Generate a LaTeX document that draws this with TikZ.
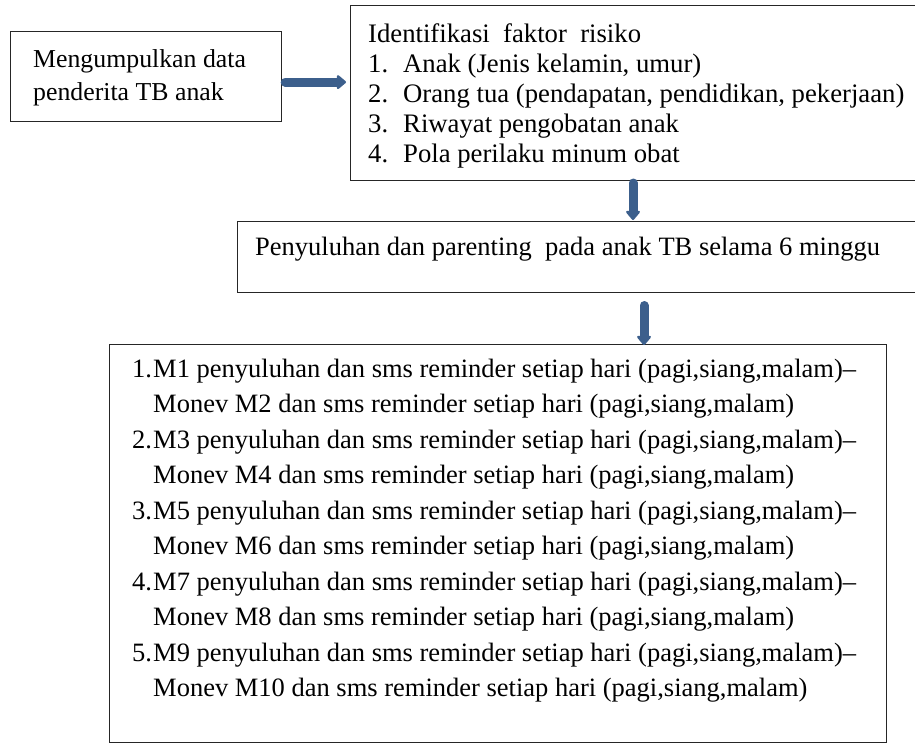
\documentclass[tikz,border=0pt]{standalone}
\usepackage{fontspec}
\setmainfont{Liberation Serif}
\usetikzlibrary{arrows.meta}
\definecolor{arrowblue}{RGB}{60,95,140}
\tikzset{
  box/.style={draw=black!85, line width=1.2pt, inner sep=0pt, anchor=north west},
  txtA/.style={anchor=base west, inner sep=0pt, font=\fontsize{25.8}{30}\selectfont},
  txtB/.style={anchor=base west, inner sep=0pt, font=\fontsize{26.7}{30}\selectfont},
  txtD/.style={anchor=base west, inner sep=0pt, font=\fontsize{26.5}{32}\selectfont},
  bigarrow/.style={draw=arrowblue, line width=9pt, line cap=round,
    -{Triangle[length=10pt,width=16pt,round]}},
}
\begin{document}
\begin{tikzpicture}[x=1pt,y=-1pt]
\useasboundingbox (0,0) rectangle (915,744);
% boxes
\node[box, minimum width=271pt, minimum height=90pt] (A) at (10,31) {};
\node[box, minimum width=600pt, minimum height=175pt] (B) at (350,5) {};
\node[box, minimum width=700pt, minimum height=71pt] (C) at (237,221) {};
\node[box, minimum width=777pt, minimum height=398pt] (D) at (109,344) {};
% box A text
\node[txtA] (a1) at (33,67) {Mengumpulkan data};
\node[txtA] (a2) at (33,100) {penderita TB anak};
% box B text
\node[txtB] (b0) at (368,42) {Identifikasi\ \ faktor\ \ risiko};
\node[txtB] (b1n) at (368,72) {1.};
\node[txtB] (b1) at (403,72) {Anak (Jenis kelamin, umur)};
\node[txtB] (b2n) at (368,102) {2.};
\node[txtB] (b2) at (403,102) {Orang tua (pendapatan, pendidikan, pekerjaan)};
\node[txtB] (b3n) at (368,132) {3.};
\node[txtB] (b3) at (403,132) {Riwayat pengobatan anak};
\node[txtB] (b4n) at (368,162) {4.};
\node[txtB] (b4) at (403,162) {Pola perilaku minum obat};
% box C text
\node[txtD] (c1) at (255,255) {Penyuluhan dan parenting\ \ pada anak TB selama 6 minggu};
% box D text
\foreach \i/\a/\b in {1/1/2,2/3/4,3/5/6,4/7/8,5/9/10} {
  \pgfmathsetmacro\yA{377+71*(\i-1)}
  \pgfmathsetmacro\yB{\yA+35.5}
  \node[txtD] (dn\i) at (132,\yA) {\i.};
  \node[txtD] (da\i) at (153,\yA) {M\a\ penyuluhan dan sms reminder setiap hari (pagi,siang,malam)–};
  \node[txtD] (db\i) at (153,\yB) {Monev M\b\ dan sms reminder setiap hari (pagi,siang,malam)};
}
% arrows
\coordinate (ab) at ([xshift=3pt,yshift=-5.5pt]A.east);
\draw[bigarrow, shorten >=4pt] (ab) -- (ab -| B.west);
\coordinate (bc) at (633,183);
\draw[bigarrow, shorten >=1pt] (bc) -- (bc |- C.north);
\coordinate (cd) at (644,305.5);
\draw[bigarrow] (cd) -- ([yshift=-1pt]cd |- D.north);
\end{tikzpicture}
\end{document}
